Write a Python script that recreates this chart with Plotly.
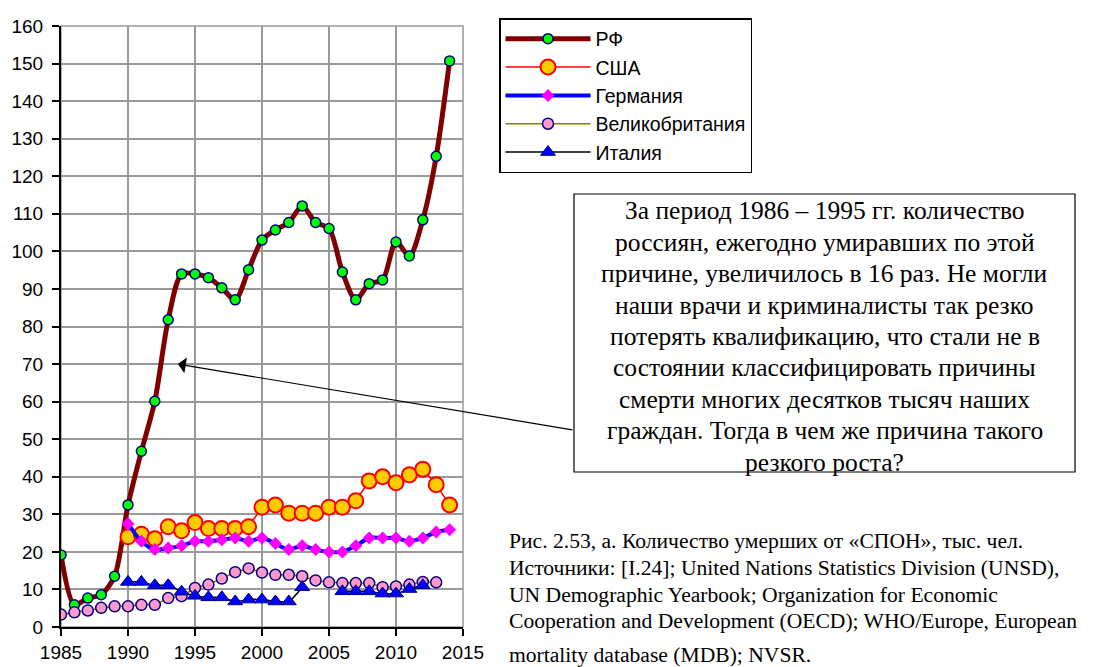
import plotly.graph_objects as go

rf_years = list(range(1985, 2015))
rf_vals = [19.2, 5.9, 7.7, 8.6, 13.5, 32.5, 46.8, 60.1, 81.8, 94.0,
           94.0, 93.0, 90.3, 87.1, 95.1, 103.0, 105.7, 107.7, 112.1, 107.7,
           106.1, 94.5, 87.1, 91.4, 92.4, 102.5, 98.8, 108.4, 125.3, 150.7]

usa_years = list(range(1990, 2015))
usa_vals = [24.0, 24.7, 23.5, 26.7, 25.6, 27.8, 26.2, 26.2, 26.2, 26.7,
            31.9, 32.5, 30.3, 30.3, 30.3, 31.9, 31.9, 33.6, 38.9, 40.0,
            38.4, 40.5, 42.0, 37.9, 32.5]

ger_years = list(range(1990, 2015))
ger_vals = [27.5, 22.8, 20.6, 21.0, 21.6, 22.8, 22.8, 23.2, 23.7, 22.8,
            23.7, 22.2, 20.6, 21.6, 20.6, 20.0, 20.0, 21.6, 23.7, 23.7,
            23.7, 22.8, 23.7, 25.3, 25.9]

gb_years = list(range(1985, 2014))
gb_vals = [3.3, 3.9, 4.4, 5.1, 5.5, 5.5, 5.9, 5.9, 7.7, 8.2,
           10.4, 11.3, 12.9, 14.6, 15.6, 14.5, 13.9, 13.9, 13.5, 12.4,
           11.9, 11.7, 11.7, 11.7, 10.6, 10.8, 11.3, 12.0, 11.9]

ita_years = list(range(1990, 2013))
ita_vals = [12.0, 12.0, 11.1, 11.1, 9.4, 8.3, 7.9, 7.9, 6.8, 7.3,
            7.3, 6.8, 6.8, 10.6, None, None, 9.5, 9.5, 9.5, 8.9,
            8.9, 10.1, 11.1]

x_ticks = [1985, 1990, 1995, 2000, 2005, 2010, 2015]
y_ticks = list(range(0, 161, 10))

names = ["РФ", "США", "Германия", "Великобритания", "Италия"]

note_lines = ["За период 1986 – 1995 гг. количество",
              "россиян, ежегодно умиравших по этой",
              "причине, увеличилось в 16 раз. Не могли",
              "наши врачи и криминалисты так резко",
              "потерять квалификацию, что стали не в",
              "состоянии классифицировать причины",
              "смерти многих десятков тысяч наших",
              "граждан. Тогда в чем же причина такого",
              "резкого роста?"]

caption_lines = ["Рис. 2.53, а. Количество умерших от «СПОН», тыс. чел.",
                 "Источники: [I.24]; United Nations Statistics Division (UNSD),",
                 "UN Demographic Yearbook; Organization for Economic",
                 "Cooperation and Development (OECD); WHO/Europe, European",
                 "mortality database (MDB); NVSR."]

# page body margin (browser default) offsets the figure
OFF = 8
FIG_W, FIG_H = 1101 - OFF, 667 - OFF
# plot area geometry in page pixels
L, T, W, H = 61, 26, 402, 601


def px(xp):
    return (xp - L) / W


def py(yp):
    return (T + H - yp) / H


fig = go.Figure()

fig.add_trace(go.Scatter(
    x=rf_years, y=rf_vals, name=names[0], mode="lines+markers",
    line=dict(color="#800000", width=5, shape="spline", smoothing=0.8),
    marker=dict(symbol="circle", size=10, color="#00FF00",
                line=dict(color="#000080", width=1.5))))

fig.add_trace(go.Scatter(
    x=usa_years, y=usa_vals, name=names[1], mode="lines+markers",
    line=dict(color="#FF0000", width=1.5),
    marker=dict(symbol="circle", size=15, color="#FFCC00",
                line=dict(color="#FF0000", width=2))))

fig.add_trace(go.Scatter(
    x=ger_years, y=ger_vals, name=names[2], mode="lines+markers",
    line=dict(color="#0000FF", width=4, shape="spline", smoothing=0.8),
    marker=dict(symbol="diamond", size=10, color="#FF00FF",
                line=dict(width=0))))

fig.add_trace(go.Scatter(
    x=gb_years, y=gb_vals, name=names[3], mode="lines+markers",
    line=dict(color="#808000", width=1.5),
    marker=dict(symbol="circle", size=11, color="#FF99CC",
                line=dict(color="#000080", width=1.5))))

fig.add_trace(go.Scatter(
    x=ita_years, y=ita_vals, name=names[4], mode="lines+markers",
    connectgaps=False,
    line=dict(color="#000000", width=1.5, shape="spline", smoothing=0.6),
    marker=dict(symbol="triangle-up", size=13, color="#0000FF",
                line=dict(color="#000080", width=1))))

# plot-area frame (gray)
fig.add_shape(type="rect", xref="paper", yref="paper", x0=0, y0=0, x1=1, y1=1,
              line=dict(color="#999999", width=1.5), layer="below")

# note box
fig.add_shape(type="rect", xref="paper", yref="paper",
              x0=px(574), x1=px(1075), y0=py(472), y1=py(194),
              line=dict(color="#000000", width=1.2), fillcolor="#FFFFFF",
              layer="above")

fig.add_annotation(
    x=1993.72, y=70, xref="x", yref="y", text="", showarrow=True,
    ax=396, ay=66, arrowhead=1, arrowsize=2.2, arrowwidth=1.2,
    arrowcolor="#000000", standoff=0)

for i, line in enumerate(note_lines):
    fig.add_annotation(
        x=px(824.5), y=py(211 + 31.4 * i), xref="paper", yref="paper",
        text=line, showarrow=False, xanchor="center", yanchor="middle",
        font=dict(family="Liberation Serif", size=25.5, color="#000000"))

caption_y = [541, 568, 595, 621, 655]
for line, yy in zip(caption_lines, caption_y):
    fig.add_annotation(
        x=px(507), y=py(yy), xref="paper", yref="paper",
        text=line, showarrow=False, xanchor="left", yanchor="middle",
        align="left",
        font=dict(family="Liberation Serif", size=21.6, color="#000000"))

fig.update_layout(
    width=FIG_W, height=FIG_H,
    margin=dict(l=L - OFF, r=FIG_W - (L - OFF) - W, t=T - OFF,
                b=FIG_H - (T - OFF) - H, pad=0, autoexpand=False),
    paper_bgcolor="#FFFFFF", plot_bgcolor="#FFFFFF",
    font=dict(family="Liberation Sans", size=18, color="#000000"),
    showlegend=True,
    legend=dict(x=px(499), y=py(18), xanchor="left",
                yanchor="top", bordercolor="#000000", borderwidth=1.5,
                bgcolor="#FFFFFF",
                font=dict(family="Liberation Sans", size=19.5, color="#000000"),
                tracegroupgap=0, itemwidth=85),
    xaxis=dict(range=[1985, 2015], tickvals=x_ticks,
               ticktext=[str(v) for v in x_ticks],
               showgrid=True, gridcolor="#999999", gridwidth=1.5,
               showline=True, linecolor="#000000", linewidth=2,
               ticks="outside", ticklen=7, tickwidth=1.5, tickcolor="#000000",
               zeroline=False, tickfont=dict(size=19), automargin=False),
    yaxis=dict(range=[0, 160], tickvals=y_ticks,
               ticktext=[str(v) for v in y_ticks],
               showgrid=True, gridcolor="#999999", gridwidth=1.5,
               showline=True, linecolor="#000000", linewidth=2,
               ticks="outside", ticklen=7, tickwidth=1.5, tickcolor="#000000",
               ticklabelstandoff=5,
               zeroline=False, tickfont=dict(size=19), automargin=False),
)

fig.write_html("out.html")
